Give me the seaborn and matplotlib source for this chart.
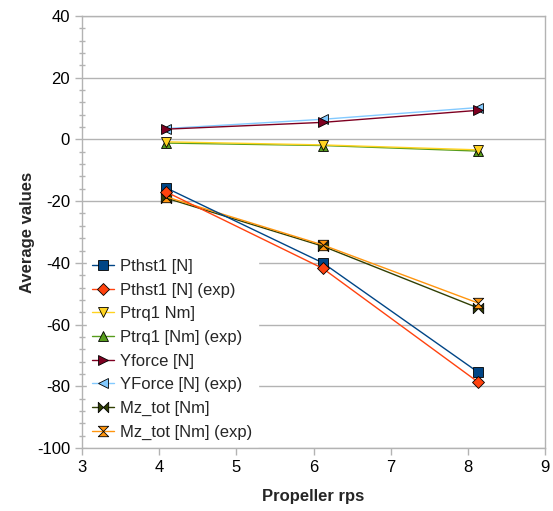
import numpy as np
import matplotlib
matplotlib.use("Agg")
import matplotlib.pyplot as plt
from matplotlib.path import Path
from matplotlib.ticker import MultipleLocator
import seaborn as sns

rps = [4.09, 6.12, 8.13]
pthst1 = [-15.7, -40.0, -75.4]
pthst1_exp = [-17.0, -41.8, -78.6]
ptrq1 = [-0.8, -1.8, -3.4]
ptrq1_exp = [-1.2, -2.0, -3.8]
yforce = [3.3, 5.5, 9.4]
yforce_exp = [3.5, 6.5, 10.3]
mz_tot = [-19.0, -34.6, -54.6]
mz_tot_exp = [-18.6, -34.2, -53.0]

labels = ["Pthst1 [N]", "Pthst1 [N] (exp)", "Ptrq1 Nm]", "Ptrq1 [Nm] (exp)",
          "Yforce [N]", "YForce [N] (exp)", "Mz_tot [Nm]", "Mz_tot [Nm] (exp)"]
series = [pthst1, pthst1_exp, ptrq1, ptrq1_exp, yforce, yforce_exp, mz_tot, mz_tot_exp]
colors = ["#004586", "#ff420e", "#ffd320", "#579d1c",
          "#7e0021", "#83caff", "#314004", "#ff950e"]

bowtie = Path([(-1, -1), (0, 0), (-1, 1), (-1, -1), (1, -1), (0, 0), (1, 1), (1, -1)],
              [Path.MOVETO, Path.LINETO, Path.LINETO, Path.CLOSEPOLY,
               Path.MOVETO, Path.LINETO, Path.LINETO, Path.CLOSEPOLY])
hourglass = Path([(-1, 1), (1, 1), (0, 0), (-1, 1), (-1, -1), (1, -1), (0, 0), (-1, -1)],
                 [Path.MOVETO, Path.LINETO, Path.LINETO, Path.CLOSEPOLY,
                  Path.MOVETO, Path.LINETO, Path.LINETO, Path.CLOSEPOLY])
markers = ["s", "D", "v", "^", ">", "<", bowtie, hourglass]
msizes = [7.5, 6.5, 7.5, 7.5, 7.5, 7.5, 7.5, 7.5]
zorders = [3.2, 3.3, 3.6, 3.5, 3.8, 3.7, 3.1, 3.15]

sns.set_theme(style="white")
plt.rcParams['font.family'] = ['Liberation Sans', 'DejaVu Sans']
plt.rcParams['axes.unicode_minus'] = False

fig = plt.figure(figsize=(5.53, 5.11), dpi=100)
ax = fig.add_axes([0.148, 0.123, 0.838, 0.846])

for vals, lab, col, mk, ms, z in zip(series, labels, colors, markers, msizes, zorders):
    sns.lineplot(x=rps, y=vals, ax=ax, color=col, label=lab, marker=mk,
                 markersize=ms, markeredgecolor="black", markeredgewidth=0.6,
                 linewidth=1.0, zorder=z)

ax.set_xlim(3, 9)
ax.set_ylim(-100, 40)
ax.xaxis.set_major_locator(MultipleLocator(1))
ax.yaxis.set_major_locator(MultipleLocator(20))
ax.yaxis.set_minor_locator(MultipleLocator(4))
ax.grid(axis="y", which="major", color="#b3b3b3", linewidth=1.0, zorder=0)
ax.grid(axis="x", visible=False)
for s in ax.spines.values():
    s.set_color("#b3b3b3")
    s.set_linewidth(1.0)
ax.tick_params(axis="both", which="major", direction="out", length=5, width=1,
               color="#b3b3b3", labelsize=12, labelcolor="black", left=True, bottom=True)
ax.tick_params(axis="y", which="minor", direction="inout", length=5, width=1,
               color="#b3b3b3", left=True)
ax.set_xlabel("Propeller rps", fontsize=12, fontweight="bold", labelpad=10)
ax.set_ylabel("Average values", fontsize=12, fontweight="bold", labelpad=1)

leg = ax.legend(loc="lower left", bbox_to_anchor=(0.005, 0.0), frameon=True,
                fontsize=12, handlelength=1.3, handletextpad=0.35,
                labelspacing=0.52, borderpad=0.35, fancybox=False, borderaxespad=0.15)
leg.get_frame().set_edgecolor("white")
leg.get_frame().set_facecolor("white")
leg.get_frame().set_alpha(1.0)
leg.set_zorder(5)

fig.savefig("out.png", dpi=100)
